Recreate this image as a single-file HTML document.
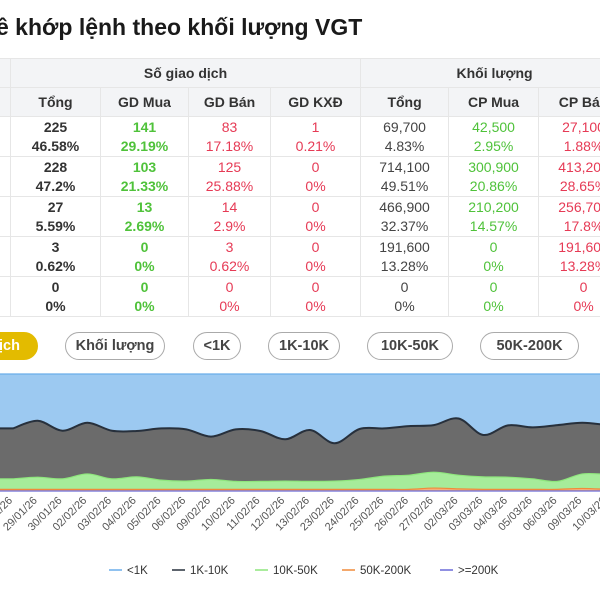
<!DOCTYPE html>
<html><head><meta charset="utf-8">
<style>
body{margin:0;width:600px;height:600px;overflow:hidden;background:#fff;font-family:"Liberation Sans","Noto Sans CJK SC",sans-serif;position:relative}
.abs{position:absolute}
#title{left:-4px;top:14px;font-size:23px;font-weight:bold;color:#1a1a1a;white-space:nowrap}
table{position:absolute;left:-80px;top:58px;border-collapse:collapse;table-layout:fixed;width:708px}
td,th{border:1px solid #e6e6e6;text-align:center;font-size:14px;line-height:19px;padding:0;white-space:nowrap;overflow:hidden}
th{background:#f3f4f6;color:#333;font-weight:bold}
.h1 th{height:28px}.h2 th{height:28px}
tr.d td{height:39px}
.b{font-weight:bold;color:#333}.g{color:#4fc23a}.gb{color:#4fc23a;font-weight:bold}.r{color:#e63a55}.n{color:#444}
.pill{position:absolute;top:332px;border:1px solid #aaa;border-radius:14px;font-size:14.5px;font-weight:bold;color:#444;line-height:26px;text-align:center;box-sizing:border-box;height:28px}
</style></head><body>
<div id="title" class="abs">ê khớp lệnh theo khối lượng VGT</div>
<table>
<colgroup><col style="width:90px"><col style="width:90px"><col style="width:88px"><col style="width:82px"><col style="width:90px"><col style="width:88px"><col style="width:90px"><col style="width:90px"></colgroup>
<tr class="h1"><th></th><th colspan="4">Số giao dịch</th><th colspan="3">Khối lượng</th></tr>
<tr class="h2"><th></th><th>Tổng</th><th>GD Mua</th><th>GD Bán</th><th>GD KXĐ</th><th>Tổng</th><th>CP Mua</th><th>CP Bán</th></tr>
<tr class="d"><td></td><td class="b">225<br>46.58%</td><td class="gb">141<br>29.19%</td><td class="r">83<br>17.18%</td><td class="r">1<br>0.21%</td><td class="n">69,700<br>4.83%</td><td class="g">42,500<br>2.95%</td><td class="r">27,100<br>1.88%</td></tr>
<tr class="d"><td></td><td class="b">228<br>47.2%</td><td class="gb">103<br>21.33%</td><td class="r">125<br>25.88%</td><td class="r">0<br>0%</td><td class="n">714,100<br>49.51%</td><td class="g">300,900<br>20.86%</td><td class="r">413,200<br>28.65%</td></tr>
<tr class="d"><td></td><td class="b">27<br>5.59%</td><td class="gb">13<br>2.69%</td><td class="r">14<br>2.9%</td><td class="r">0<br>0%</td><td class="n">466,900<br>32.37%</td><td class="g">210,200<br>14.57%</td><td class="r">256,700<br>17.8%</td></tr>
<tr class="d"><td></td><td class="b">3<br>0.62%</td><td class="gb">0<br>0%</td><td class="r">3<br>0.62%</td><td class="r">0<br>0%</td><td class="n">191,600<br>13.28%</td><td class="g">0<br>0%</td><td class="r">191,600<br>13.28%</td></tr>
<tr class="d"><td></td><td class="b">0<br>0%</td><td class="gb">0<br>0%</td><td class="r">0<br>0%</td><td class="r">0<br>0%</td><td class="n">0<br>0%</td><td class="g">0<br>0%</td><td class="r">0<br>0%</td></tr>
</table>
<div class="pill" style="left:-40px;width:78px;background:#e3bb00;border-color:#e3bb00;color:#fff">&nbsp;&nbsp;&nbsp;dịch</div>
<div class="pill" style="left:65px;width:100px">Khối lượng</div>
<div class="pill" style="left:193px;width:48px">&lt;1K</div>
<div class="pill" style="left:268px;width:72px">1K-10K</div>
<div class="pill" style="left:367px;width:86px">10K-50K</div>
<div class="pill" style="left:480px;width:99px">50K-200K</div>
<svg id="chart" class="abs" style="left:0;top:360px" width="600" height="240"></svg>
<script>
const dates=["28/01/26","29/01/26","30/01/26","02/02/26","03/02/26","04/02/26","05/02/26","06/02/26","09/02/26","10/02/26","11/02/26","12/02/26","13/02/26","23/02/26","24/02/26","25/02/26","26/02/26","27/02/26","02/03/26","03/03/26","04/03/26","05/03/26","06/03/26","09/03/26","10/03/26"];
const s200=[0,0,0,0,0,0,0,0,0,0,0,0,0,0,0,0,0,0,0,0,0,0,0,0,0];
const s50=[1.4,1.4,1.4,1.4,1.4,1.4,1.4,1.4,1.4,1.4,1.4,1.4,1.4,1.4,1.4,1.4,1.4,2.5,1.8,1.4,1.4,1.4,1.4,2.2,1.4];
const s10=[9.0,10.4,9.0,13.2,9.0,10.7,7.9,7.1,8.5,6.8,6.8,7.1,6.8,7.1,8.5,11.3,12.1,13.6,11.7,10.7,10.4,9.0,6.8,12.4,12.7];
const s1=[43.1,48.2,41.1,43.7,41.1,39.2,44.2,44.2,36.6,44.5,43.1,35.7,43.9,32.3,43.1,40.8,42.0,40.2,48.5,35.8,44.3,44.0,48.1,43.7,42.2];
const s0=[46.5,40.0,48.5,41.7,48.5,48.7,46.5,47.3,53.5,47.3,48.7,55.8,47.9,59.2,47.0,46.5,44.5,43.7,38.0,52.1,43.9,45.6,43.7,41.7,43.7];
const NS="http://www.w3.org/2000/svg";
const svg=document.getElementById('chart');
const top0=14,bot=131;
const xs=i=>13+i*24.75;
const ys=v=>bot-(v/100)*(bot-top0);
function el(t,a){const e=document.createElementNS(NS,t);for(const k in a)e.setAttribute(k,a[k]);svg.appendChild(e);return e;}
function curve(pts){let d="M"+pts[0][0]+","+pts[0][1];for(let i=0;i<pts.length-1;i++){const p0=pts[i-1]||pts[i],p1=pts[i],p2=pts[i+1],p3=pts[i+2]||p2;const c1=[p1[0]+(p2[0]-p0[0])/6,p1[1]+(p2[1]-p0[1])/6],c2=[p2[0]-(p3[0]-p1[0])/6,p2[1]-(p3[1]-p1[1])/6];d+=" C"+c1+" "+c2+" "+p2;}return d;}
const series=[{v:s200,f:"#aab0ee",l:"#6a6ad8"},{v:s50,f:"#f5b07a",l:"#f08a3a"},{v:s10,f:"#a6ec9a",l:"#8ee67c"},{v:s1,f:"#6b6b6b",l:"#27303c"},{v:s0,f:"#9cc9f1",l:"#6aaeea"}];
const names=["area-gte200k","area-50k-200k","area-10k-50k","area-1k-10k","area-lt1k"];
let base=dates.map(()=>0);
const layers=[];
series.forEach((s,k)=>{const topv=base.map((b,i)=>b+s.v[i]);const up=topv.map((v,i)=>[xs(i),ys(v)]);const dn=base.map((v,i)=>[xs(i),ys(v)]).reverse();layers.push({s,up,dn,k});base=topv;});
layers.forEach(L=>{const u=L.up,dn=L.dn;const last=dn[dn.length-1];
const d="M0,"+u[0][1]+" L"+u[0][0]+","+u[0][1]+curve(u).replace(/^M[^ C]+/,"")+" L"+dn[0][0]+","+dn[0][1]+curve(dn).replace(/^M[^ C]+/,"")+" L0,"+last[1]+"Z";
const p=el('path',{d:d,fill:L.s.f});

});
layers.forEach(L=>{const u=L.up;const p=el('path',{d:"M0,"+u[0][1]+" L"+u[0][0]+","+u[0][1]+curve(u).replace(/^M[^ C]+/,""),fill:"none",stroke:L.s.l,"stroke-width":L.k==3?2:1.2});

});
dates.forEach((d,i)=>{const t=el('text',{x:xs(i),y:141,transform:`rotate(-45 ${xs(i)} 141)`,"text-anchor":"end","font-size":"11","fill":"#555","font-family":"Liberation Sans, sans-serif"});t.textContent=d;

});
const leg=[["<1K","#6aaeea",109],["1K-10K","#27303c",172],["10K-50K","#8ee67c",255],["50K-200K","#f08a3a",342],[">=200K","#6a6ad8",440]];
leg.forEach(g=>{const l=el('line',{x1:g[2],x2:g[2]+13,y1:210,y2:210,stroke:g[1],"stroke-width":1.5});


const t=el('text',{x:g[2]+18,y:214,"font-size":"11.5","fill":"#333","font-family":"Liberation Sans, sans-serif"});t.textContent=g[0];

});
</script>
</body></html>
